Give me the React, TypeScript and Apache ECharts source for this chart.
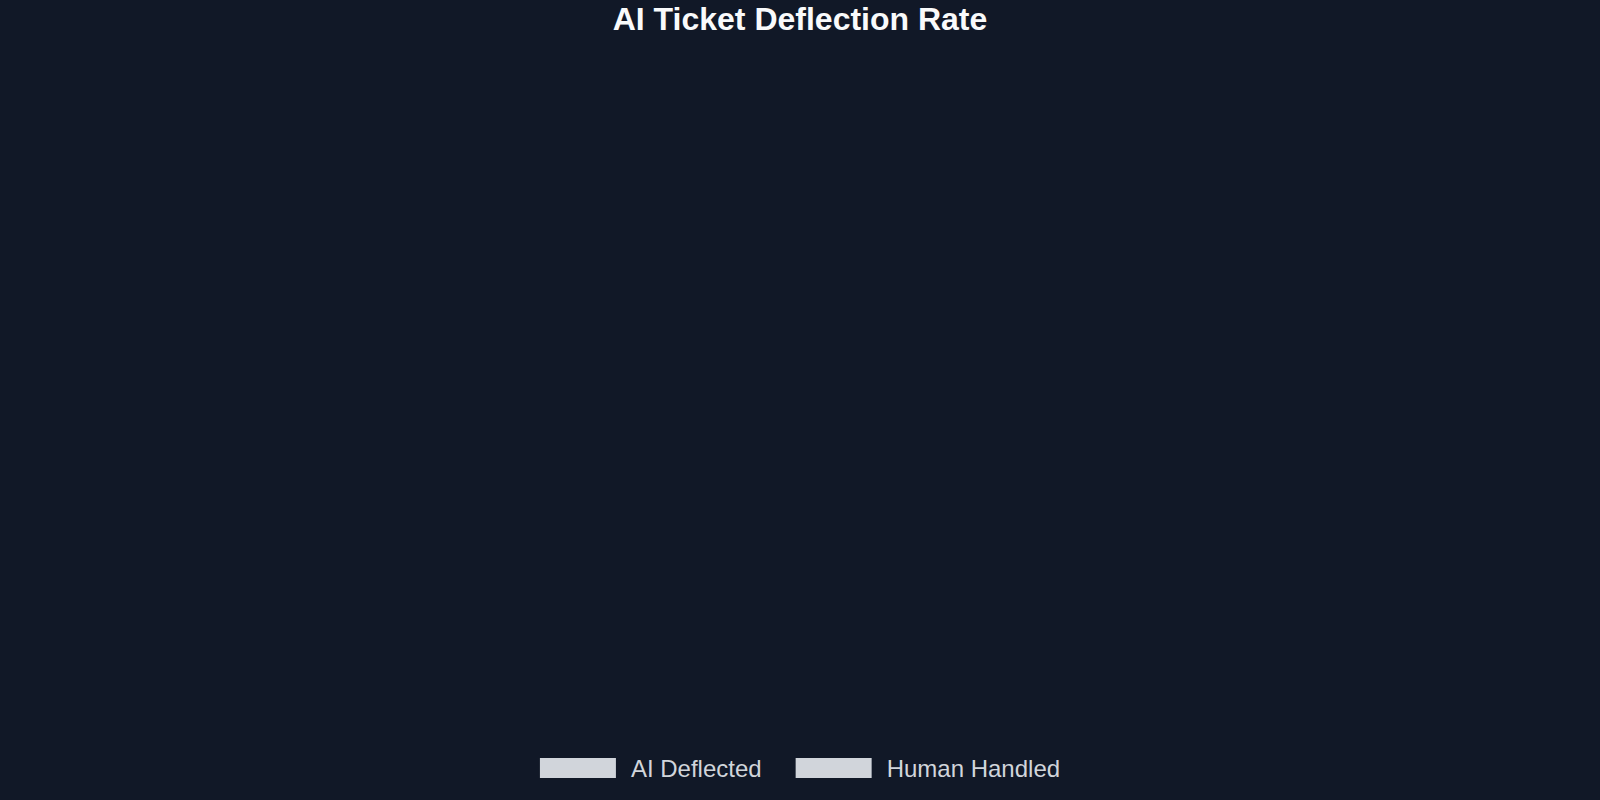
import React, { useRef, useEffect } from 'react';
import * as echarts from 'echarts';

const BG = '#111827';
const TEXT = '#d1d5db';

// No bars were visible in the reference, so the series stay empty
const categories: string[] = [];
const aiDeflected: number[] = [];
const humanHandled: number[] = [];
const seriesNames = ['AI Deflected', 'Human Handled'];

export default function App() {
  const chartRef = useRef<HTMLDivElement>(null);

  useEffect(() => {
    document.body.style.margin = '0';
    if (!chartRef.current) return;
    const chart = echarts.init(chartRef.current, undefined, { renderer: 'svg' });

    const option: echarts.EChartsOption = {
      animation: false,
      backgroundColor: BG,
      title: {
        text: 'AI Ticket Deflection Rate',
        left: 'center',
        top: -2,
        textStyle: {
          color: '#f9fafb',
          fontSize: 32,
          fontWeight: 'bold',
          fontFamily: 'Liberation Sans, Arial, sans-serif',
        },
      },
      legend: {
        bottom: 15,
        left: 'center',
        icon: 'rect',
        itemWidth: 76,
        itemHeight: 20,
        itemGap: 34,
        data: seriesNames,
        itemStyle: { color: TEXT },
        textStyle: {
          color: TEXT,
          fontSize: 24,
          fontFamily: 'Liberation Sans, Arial, sans-serif',
          padding: [0, 0, 0, 10],
        },
      },
      grid: { left: 60, right: 40, top: 70, bottom: 90 },
      xAxis: { type: 'category', data: categories, show: false },
      yAxis: { type: 'value', show: false },
      series: [
        { name: seriesNames[0], type: 'bar', stack: 'total', data: aiDeflected, itemStyle: { color: TEXT } },
        { name: seriesNames[1], type: 'bar', stack: 'total', data: humanHandled, itemStyle: { color: TEXT } },
      ],
    };

    chart.setOption(option);
    const onResize = () => chart.resize();
    window.addEventListener('resize', onResize);
    return () => {
      window.removeEventListener('resize', onResize);
      chart.dispose();
    };
  }, []);

  return <div ref={chartRef} style={{ width: 1600, height: 800 }} />;
}
